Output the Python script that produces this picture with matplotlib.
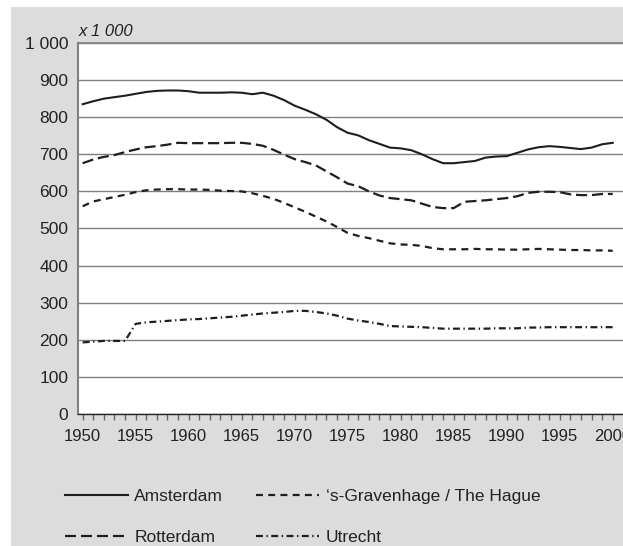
import matplotlib
matplotlib.use('Agg')
import matplotlib.pyplot as plt
from matplotlib.patches import Rectangle

plt.rcParams['font.family'] = ['Liberation Sans', 'DejaVu Sans']
plt.rcParams['lines.scale_dashes'] = False

years = list(range(1950, 2001))

amsterdam = [835, 843, 850, 854, 858, 863, 868, 871, 872, 872,
             870, 866, 866, 866, 867, 866, 862, 866, 858, 846,
             831, 820, 808, 793, 773, 758, 751, 738, 728, 718,
             716, 711, 700, 687, 676, 676, 679, 682, 691, 694,
             695, 704, 713, 719, 722, 720, 717, 714, 718, 727, 731]
rotterdam = [676, 686, 693, 698, 706, 713, 719, 722, 726, 731,
             730, 730, 730, 730, 731, 731, 728, 723, 712, 699,
             687, 679, 670, 654, 638, 621, 614, 600, 589, 582,
             579, 576, 567, 558, 555, 555, 572, 574, 576, 579,
             582, 587, 596, 599, 599, 598, 592, 590, 590, 593, 593]
the_hague = [560, 573, 579, 585, 591, 598, 603, 605, 606, 606,
             605, 605, 604, 602, 601, 600, 595, 588, 580, 569,
             557, 545, 532, 519, 504, 488, 480, 474, 467, 460,
             457, 456, 453, 447, 444, 444, 444, 445, 444, 444,
             443, 443, 444, 445, 444, 443, 442, 442, 441, 441, 440]
utrecht = [193, 195, 197, 197, 197, 243, 247, 249, 251, 253,
           255, 256, 258, 260, 262, 265, 268, 271, 273, 275,
           278, 278, 275, 271, 265, 257, 252, 248, 243, 237,
           236, 235, 234, 232, 230, 230, 230, 230, 230, 231,
           231, 231, 233, 233, 234, 234, 234, 234, 234, 234, 234]

y_ticks = list(range(0, 1001, 100))
y_labels = ['0', '100', '200', '300', '400', '500', '600', '700', '800', '900', '1 000']
x_ticks = list(range(1950, 2001, 5))

W, H = 623, 546
fig = plt.figure(figsize=(W / 100, H / 100), dpi=100)
fig.patch.set_facecolor('white')
fig.patches.append(Rectangle((11 / W, 0), 1, (H - 7) / H, transform=fig.transFigure,
                             facecolor='#dcdcdd', edgecolor='none', zorder=-10))

ax = fig.add_axes([78 / W, (H - 414) / H, (W - 78) / W, 371 / H])
ax.set_facecolor('white')

lc = '#1e1e1e'
l1, = ax.plot(years, amsterdam, color=lc, lw=1.5, label='Amsterdam')
l2, = ax.plot(years, rotterdam, color=lc, lw=1.6, linestyle=(0, (8, 3.5)), label='Rotterdam')
l3, = ax.plot(years, the_hague, color=lc, lw=1.6, linestyle=(0, (5, 3.8)), label='\u2018s-Gravenhage / The Hague')
l4, = ax.plot(years, utrecht, color=lc, lw=1.6, linestyle=(0, (5, 2.5, 1, 2.5)), label='Utrecht')

ax.set_xlim(1949.56, 2000.97)
ax.set_ylim(0, 1000)
ax.set_yticks(y_ticks)
ax.set_yticklabels(y_labels)
ax.set_xticks(x_ticks)
ax.set_xticks(years, minor=True)
ax.tick_params(axis='y', length=0, pad=7, labelsize=12.5, labelcolor='#222222')
ax.tick_params(axis='x', which='both', direction='out', length=4, color='#666666', width=1)
ax.tick_params(axis='x', which='major', pad=7, labelsize=12, labelcolor='#222222')

ax.grid(axis='y', color='#7f7f7f', lw=1)
ax.set_axisbelow(True)
for s in ['top', 'right']:
    ax.spines[s].set_visible(False)
ax.spines['left'].set_color('#808080')
ax.spines['left'].set_linewidth(1.5)
ax.spines['bottom'].set_color('#222222')
ax.spines['bottom'].set_linewidth(1)
ax.axhline(1000, color='#7f7f7f', lw=1.2, clip_on=False, zorder=0)

fig.text(79 / W, (H - 31) / H, 'x 1 000', style='italic', fontsize=12,
         color='#222222', ha='left', va='center')

fig.legend(handles=[l1, l2, l3, l4], ncol=2, loc='upper left',
           bbox_to_anchor=(65 / W, (H - 489) / H), bbox_transform=fig.transFigure,
           frameon=False, fontsize=12.5, handlelength=3.6, handletextpad=0.4,
           columnspacing=1.9, labelspacing=1.5, borderpad=0, borderaxespad=0,
           labelcolor='#222222')

fig.savefig('out.png', dpi=100)
